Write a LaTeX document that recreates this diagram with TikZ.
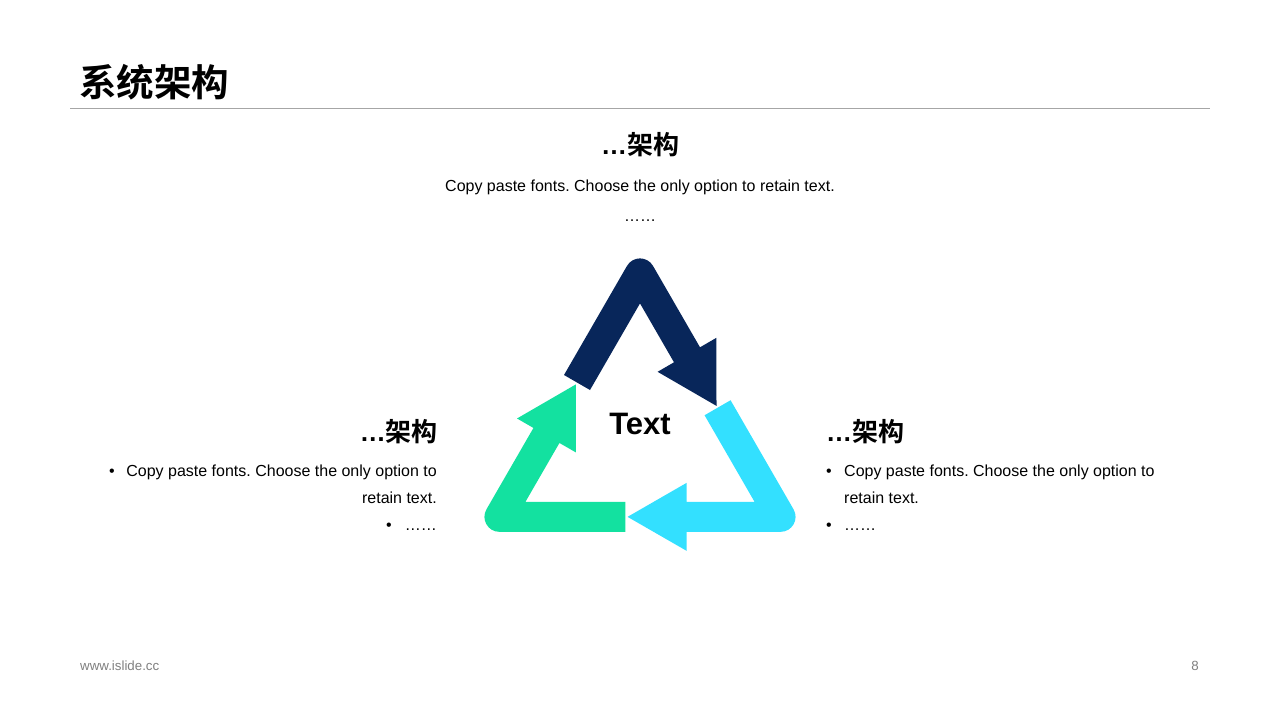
\documentclass[tikz,border=0pt]{standalone}
\usepackage{fontspec}
\setmainfont{Liberation Sans}
\newfontfamily\cjkb{Noto Sans CJK SC Bold}
\newfontfamily\latb{Liberation Sans Bold}
\frenchspacing
\definecolor{navyc}{RGB}{8,38,90}
\definecolor{cyanc}{RGB}{51,224,255}
\definecolor{greenc}{RGB}{19,225,160}
\definecolor{rulec}{RGB}{166,166,166}
\definecolor{footc}{RGB}{128,128,128}
\tikzset{
  body/.style={inner sep=0pt, font=\fontsize{16}{19}\selectfont},
  head/.style={inner sep=0pt, font=\fontsize{26}{30}\selectfont},
  foot/.style={inner sep=0pt, text=footc, font=\fontsize{13.3}{15}\selectfont},
}
\newcommand{\arrowshape}{%
  (564,375) -- (627,265.9) .. controls (632.8,255.9) and (647.2,255.9) .. (653,265.9)
  -- (700,347.3) -- (716.4,337.8) -- (716.5,405.9) -- (657.6,371.8)
  -- (674,362.3) -- (640,303.4) -- (590,390) -- cycle}
\begin{document}
\begin{tikzpicture}[x=1pt,y=-1pt]
\useasboundingbox (0,0) rectangle (1280,720);
\fill[white] (0,0) rectangle (1280,720);
% title
\node[inner sep=0pt, anchor=west, font=\cjkb\fontsize{37.5}{40}\selectfont] (title) at (79,82) {系统架构};
\coordinate (rl) at (70,108);
\coordinate (rr) at (1210,108);
\draw[rulec, line width=1pt] (rl) -- (rr);
% arrows
\coordinate (c) at (640,435.7);
\fill[navyc] \arrowshape;
\begin{scope}[rotate around={-120:(c)}]
\fill[cyanc] \arrowshape;
\end{scope}
\begin{scope}[rotate around={120:(c)}]
\fill[greenc] \arrowshape;
\end{scope}
\node[inner sep=0pt, font=\latb\fontsize{31}{34}\selectfont] (center) at (640,424) {Text};
% top block
\node[head] (toph) at (640,145) {{\latb …}{\cjkb 架构}};
\node[body, anchor=base] (topt) at (640,191) {Copy paste fonts. Choose the only option to retain text.};
\node[body, anchor=base] (topd) at (640,221) {……};
% left block
\node[head, anchor=east] (lefth) at (438,432) {{\latb …}{\cjkb 架构}};
\node[body, anchor=base] (lb1) at (112,476) {•};
\node[body, anchor=base east] (lt1) at (437,476) {Copy paste fonts. Choose the only option to};
\node[body, anchor=base east] (lt2) at (437,503) {retain text.};
\node[body, anchor=base] (lb2) at (389,530) {•};
\node[body, anchor=base east] (lt3) at (437,530) {……};
% right block
\node[head, anchor=west] (righth) at (826,432) {{\latb …}{\cjkb 架构}};
\node[body, anchor=base] (rb1) at (829,476) {•};
\node[body, anchor=base west] (rt1) at (844,476) {Copy paste fonts. Choose the only option to};
\node[body, anchor=base west] (rt2) at (844,503) {retain text.};
\node[body, anchor=base] (rb2) at (829,530) {•};
\node[body, anchor=base west] (rt3) at (844,530) {……};
% footer
\node[foot, anchor=west] (url) at (80,666) {www.islide.cc};
\node[foot] (page) at (1195,666) {8};
\end{tikzpicture}
\end{document}
